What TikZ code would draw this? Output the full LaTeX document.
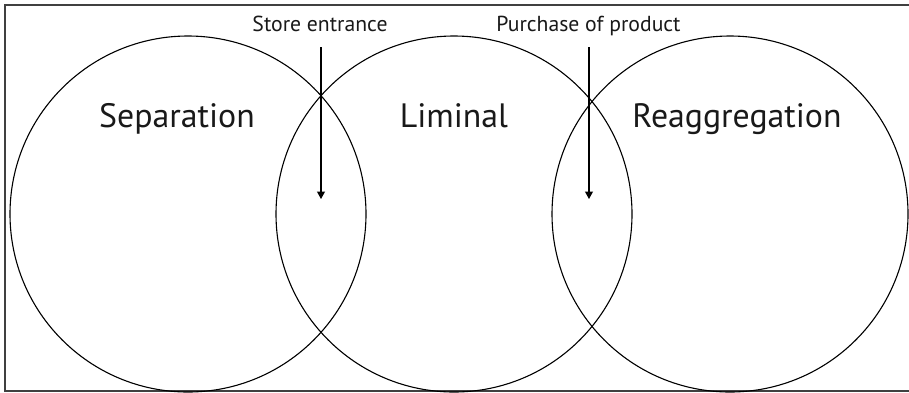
\documentclass[tikz,border=0pt]{standalone}
\usepackage{fontspec}
\setmainfont{PT Sans}
\usetikzlibrary{arrows.meta}
\tikzset{
  ring/.style={circle, draw=black, line width=1.1pt, minimum size=356pt, inner sep=0pt},
  phase/.style={anchor=base, font=\fontsize{33.8}{36}\selectfont, text=black!90},
  event/.style={anchor=base, font=\fontsize{21.7}{23}\selectfont, text=black!90},
  flow/.style={draw=black, line width=1.1pt, -{Triangle[length=7.5pt,width=8pt]}}
}
\begin{document}
\begin{tikzpicture}[x=1pt,y=-1pt]
\useasboundingbox (0,0) rectangle (909,392);
\draw[line width=1.8pt, draw=black!75] (913,5) -- (5,5) -- (5,391) -- (913,391);
\node[ring] (sep) at (188,214) {};
\node[ring] (lim) at (454,214) {};
\node[ring] (rea) at (730,214) {};
\node[phase] (septxt) at (177,127) {Separation};
\node[phase] (limtxt) at (454,127) {Liminal};
\node[phase] (reatxt) at (737,127) {Reaggregation};
\node[event] (store) at (320,31.5) {Store entrance};
\node[event] (purch) at (588.5,31.5) {Purchase of product};
\coordinate (s1) at (321,47);
\coordinate (e1) at (321,199);
\coordinate (s2) at (589,47);
\coordinate (e2) at (589,199);
\draw[flow] (s1) -- (e1);
\draw[flow] (s2) -- (e2);
\end{tikzpicture}
\end{document}
